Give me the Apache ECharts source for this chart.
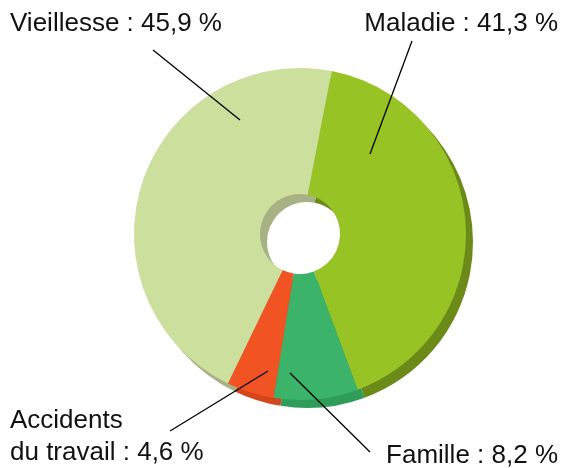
<!DOCTYPE html>
<html>
<head>
<meta charset="utf-8">
<script src="https://cdn.jsdelivr.net/npm/echarts@6/dist/echarts.min.js"></script>
<style>
  html, body { margin: 0; padding: 0; background: #fff; }
  #chart { width: 563px; height: 468px; }
</style>
</head>
<body>
<div id="chart"></div>
<script>
// data
const categories = ["Maladie", "Famille", "Accidents\ndu travail", "Vieillesse"];
const shares = [41.3, 8.2, 4.6, 45.9];

// styling
const topColors = ["#97c325", "#3bb46a", "#f15323", "#cddf9c"];
const sideColors = ["#6b8a18", "#2f9d59", "#d3461c", "#a7b183"];

// where each label sits and where its leader line ends inside the slice
const labelSpots = [
  { x: 558, y: 8, align: "right", start: [412, 41], end: [370, 154] },
  { x: 558, y: 440, align: "right", start: [370, 452], end: [290, 373] },
  { x: 10, y: 405, align: "left", start: [170, 431], end: [268, 371] },
  { x: 10, y: 8, align: "left", start: [153, 50], end: [240, 120] }
];

const fmt = (v) => v.toFixed(1).replace(".", ",");

const chart = echarts.init(document.getElementById("chart"));

const pieData = categories.map((name, i) => ({ name: name, value: shares[i] }));

const ringBase = {
  type: "pie",
  radius: [40, 166],
  startAngle: 79,
  clockwise: true,
  emphasis: { disabled: true },
  itemStyle: { borderWidth: 0 }
};

chart.setOption({
  backgroundColor: "#ffffff",
  animation: false,
  series: [
    Object.assign({}, ringBase, {
      // side / depth of the donut
      silent: true,
      z: 1,
      center: [307, 242],
      label: { show: false },
      labelLine: { show: false },
      data: pieData.map((d, i) => ({
        name: d.name, value: d.value,
        itemStyle: { color: sideColors[i] }
      }))
    }),
    Object.assign({}, ringBase, {
      center: [300, 234],
      silent: true,
      z: 2,
      label: { show: false },
      labelLine: { show: false },
      data: pieData.map((d, i) => ({
        name: d.name, value: d.value,
        itemStyle: { color: topColors[i] }
      }))
    }),
    Object.assign({}, ringBase, {
      // labels and leader lines, drawn over the slices
      center: [300, 234],
      silent: true,
      z: 5,
      itemStyle: { color: "rgba(0,0,0,0)", borderWidth: 0 },
      label: {
        show: true,
        position: "outside",
        overflow: "none",
        color: "#111",
        fontFamily: "Liberation Sans, Arial, sans-serif",
        fontSize: 26,
        lineHeight: 32,
        formatter: (p) => p.name + " : " + fmt(p.value) + " %"
      },
      labelLine: {
        show: true,
        lineStyle: { color: "#000", width: 1.3 }
      },
      labelLayout: (params) => {
        const s = labelSpots[params.dataIndex];
        return {
          x: s.x,
          y: s.y,
          align: s.align,
          verticalAlign: "top",
          labelLinePoints: [s.start, s.start, s.end]
        };
      },
      data: pieData
    })
  ]
});
</script>
</body>
</html>
